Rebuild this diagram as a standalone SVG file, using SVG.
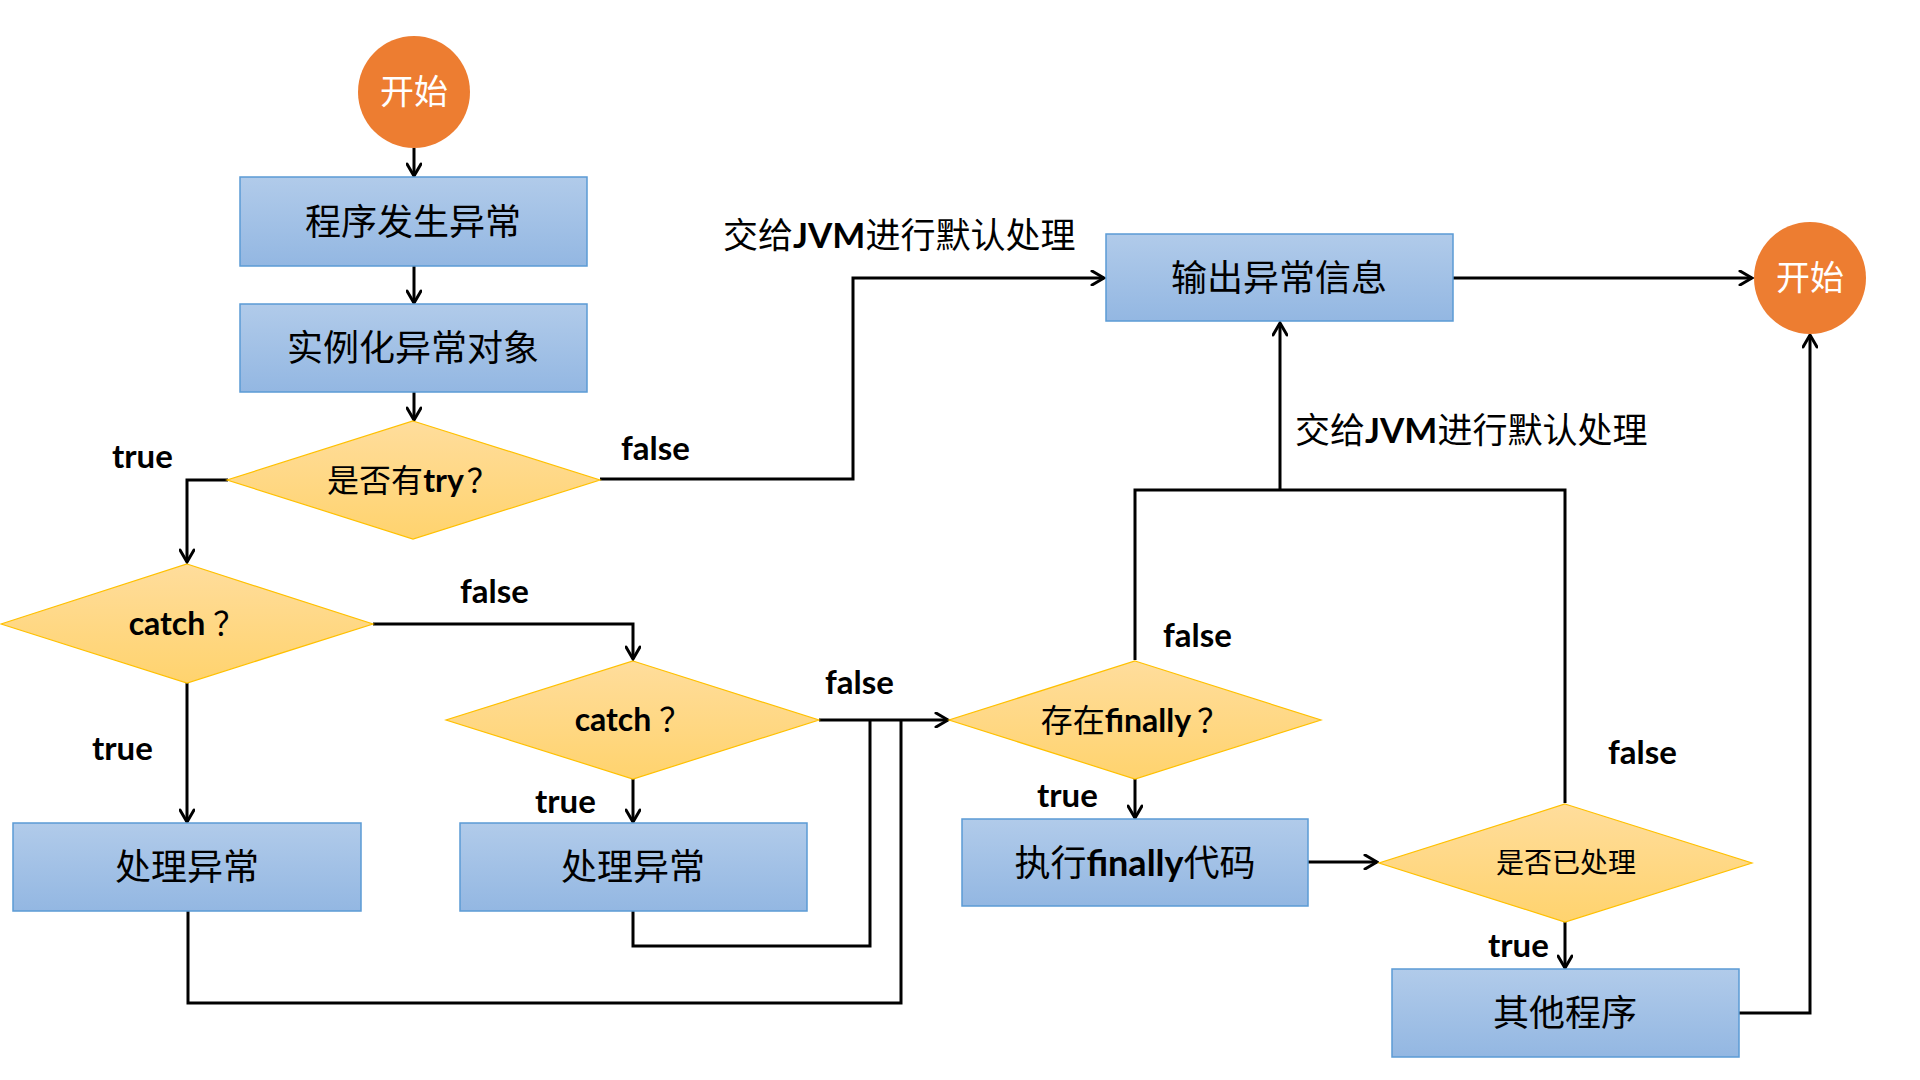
<svg xmlns="http://www.w3.org/2000/svg" width="1920" height="1080" viewBox="0 0 1920 1080">
<defs>
<linearGradient id="gBox" x1="0" y1="0" x2="0" y2="1">
<stop offset="0" stop-color="#B1CBEA"/>
<stop offset="1" stop-color="#93B7E2"/>
</linearGradient>
<linearGradient id="gDia" x1="0" y1="0" x2="0" y2="1">
<stop offset="0" stop-color="#FFDD9C"/>
<stop offset="1" stop-color="#FFD36E"/>
</linearGradient>
<marker id="arr" viewBox="0 0 16 16" refX="14" refY="8" markerWidth="16" markerHeight="16" markerUnits="userSpaceOnUse" orient="auto">
<path d="M2,1 L14,8 L2,15" fill="none" stroke="#000" stroke-width="3" stroke-linecap="round" stroke-linejoin="miter"/>
</marker>
</defs>
<style>
.box{fill:url(#gBox);stroke:#5B9BD5;stroke-width:1.5}
.dia{fill:url(#gDia);stroke:#FFC000;stroke-width:1.2}
.circ{fill:#ED7D31}
.cn{font-family:"Noto Sans CJK SC","Noto Sans",sans-serif;fill:#000}
.bt{font-family:Lato,"Open Sans",sans-serif;font-weight:bold}
.lab{font-family:Lato,"Open Sans",sans-serif;font-weight:bold;font-size:33px;fill:#000}
.node{font-size:36px;text-anchor:middle}
.dtx{font-size:32px;text-anchor:middle}
.ctx{font-family:"Noto Sans CJK SC",sans-serif;font-size:34px;fill:#fff;text-anchor:middle}
.ln{fill:none;stroke:#000;stroke-width:3;stroke-linejoin:miter}
.la{marker-end:url(#arr)}
</style>
<rect width="1920" height="1080" fill="#fff"/>

<g id="connectors">
<path class="ln la" d="M414,148 L414,176"/>
<path class="ln la" d="M414,266 L414,303"/>
<path class="ln la" d="M414,392 L414,420"/>
<path class="ln la" d="M228,480 L187,480 L187,562"/>
<path class="ln la" d="M600,479 L853,479 L853,278 L1104,278"/>
<path class="ln la" d="M373,624 L633,624 L633,659"/>
<path class="ln la" d="M187,683 L187,822"/>
<path class="ln la" d="M633,779 L633,822"/>
<path class="ln la" d="M819,720 L948,720"/>
<path class="ln" d="M633,911 L633,946 L870,946 L870,720"/>
<path class="ln" d="M188,911 L188,1003 L901,1003 L901,720"/>
<path class="ln" d="M1135,660 L1135,490 L1565,490 L1565,803"/>
<path class="ln la" d="M1280,490 L1280,323"/>
<path class="ln la" d="M1135,779 L1135,818"/>
<path class="ln la" d="M1308,862 L1377,862"/>
<path class="ln la" d="M1565,922 L1565,968"/>
<path class="ln la" d="M1739,1013 L1810,1013 L1810,335"/>
<path class="ln la" d="M1453,278 L1752,278"/>
</g>

<g id="start">
<circle class="circ" cx="414" cy="92" r="56"/>
<text class="ctx" x="414" y="104">开始</text>
</g>
<g id="end">
<circle class="circ" cx="1810" cy="278" r="56"/>
<text class="ctx" x="1810" y="290">开始</text>
</g>

<g id="box-exception">
<rect class="box" x="240" y="177" width="347" height="89"/>
<text class="cn node" x="413" y="235">程序发生异常</text>
</g>
<g id="box-instantiate">
<rect class="box" x="240" y="304" width="347" height="88"/>
<text class="cn node" x="413" y="361">实例化异常对象</text>
</g>
<g id="box-output">
<rect class="box" x="1106" y="234" width="347" height="87"/>
<text class="cn node" x="1279" y="291">输出异常信息</text>
</g>
<g id="box-handle1">
<rect class="box" x="13" y="823" width="348" height="88"/>
<text class="cn node" x="187" y="880">处理异常</text>
</g>
<g id="box-handle2">
<rect class="box" x="460" y="823" width="347" height="88"/>
<text class="cn node" x="633" y="880">处理异常</text>
</g>
<g id="box-finally">
<rect class="box" x="962" y="819" width="346" height="87"/>
<text class="cn node" x="1135" y="876">执行<tspan class="bt">finally</tspan>代码</text>
</g>
<g id="box-other">
<rect class="box" x="1392" y="969" width="347" height="88"/>
<text class="cn node" x="1565" y="1026">其他程序</text>
</g>

<g id="dia-try">
<polygon class="dia" points="413,421 600,480 413,539 227,480"/>
<text class="cn dtx" x="413" y="492">是否有<tspan class="bt">try</tspan><tspan dx="3">？</tspan></text>
</g>
<g id="dia-catch1">
<polygon class="dia" points="187,564 373,624 187,683 1,624"/>
<text class="cn dtx" x="187" y="635"><tspan class="bt">catch</tspan><tspan dx="8">？</tspan></text>
</g>
<g id="dia-catch2">
<polygon class="dia" points="633,661 819,720 633,779 446,720"/>
<text class="cn dtx" x="633" y="731"><tspan class="bt">catch</tspan><tspan dx="8">？</tspan></text>
</g>
<g id="dia-finally">
<polygon class="dia" points="1135,661 1321,720 1135,779 949,720"/>
<text class="cn dtx" x="1135" y="732">存在<tspan class="bt">finally</tspan><tspan dx="6">？</tspan></text>
</g>
<g id="dia-handled">
<polygon class="dia" points="1565,804 1752,863 1565,922 1379,863"/>
<text class="cn" x="1566" y="873" font-size="28" text-anchor="middle">是否已处理</text>
</g>

<g id="labels">
<text class="lab" x="112" y="468">true</text>
<text class="lab" x="621" y="460">false</text>
<text class="cn" x="723" y="248" font-size="35">交给<tspan class="bt">JVM</tspan>进行默认处理</text>
<text class="cn" x="1295" y="443" font-size="35">交给<tspan class="bt">JVM</tspan>进行默认处理</text>
<text class="lab" x="460" y="603">false</text>
<text class="lab" x="92" y="760">true</text>
<text class="lab" x="535" y="813">true</text>
<text class="lab" x="825" y="694">false</text>
<text class="lab" x="1163" y="647">false</text>
<text class="lab" x="1037" y="807">true</text>
<text class="lab" x="1608" y="764">false</text>
<text class="lab" x="1488" y="957">true</text>
</g>
</svg>
